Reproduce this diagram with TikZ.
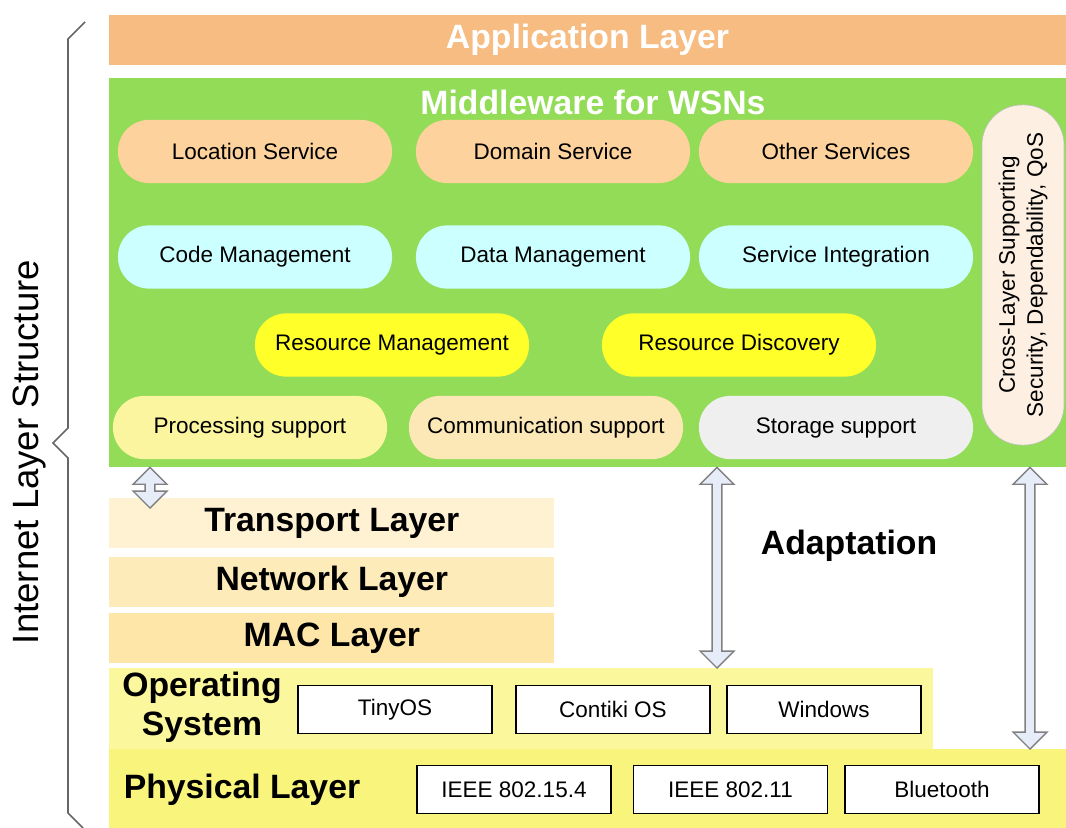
\documentclass[tikz,border=0pt]{standalone}
\usepackage{fontspec}
\setmainfont{Liberation Sans}
\usetikzlibrary{calc,positioning}
\definecolor{AppOrange}{HTML}{F6BC82}
\definecolor{MwGreen}{HTML}{93DC58}
\definecolor{SrvOrange}{HTML}{FDD29C}
\definecolor{MgmtCyan}{HTML}{CCFFFF}
\definecolor{ResYellow}{HTML}{FFFF2A}
\definecolor{ProcYellow}{HTML}{FAF59E}
\definecolor{CommBeige}{HTML}{FCE8B6}
\definecolor{StoreGray}{HTML}{EFEFEF}
\definecolor{CrossLinen}{HTML}{FDF0E3}
\definecolor{TransLight}{HTML}{FFF2D3}
\definecolor{NetLight}{HTML}{FEEBBA}
\definecolor{MacLight}{HTML}{FDE6A8}
\definecolor{OSYellow}{HTML}{FBF79D}
\definecolor{PhyYellow}{HTML}{F8F47C}
\definecolor{ArrFill}{HTML}{E6ECF8}
\tikzset{
  band/.style={inner sep=0pt, minimum width=23.925cm, font=\fontsize{24}{28}\selectfont\bfseries},
  pill/.style={rounded corners=0.78cm, minimum width=6.85cm, minimum height=1.58cm, inner sep=0pt, font=\fontsize{16}{19}\selectfont},
  stack/.style={inner sep=0pt, minimum width=11.125cm, minimum height=1.25cm, font=\fontsize{24}{28}\selectfont\bfseries},
  sysbox/.style={draw=black, line width=0.9pt, fill=white, minimum width=4.85cm, minimum height=1.2cm, inner sep=0pt, font=\fontsize{16}{19}\selectfont},
  bigtext/.style={font=\fontsize{24}{28}\selectfont\bfseries, align=center},
  fatarr/.style={draw=black!50, line width=1pt, fill=ArrFill},
  brace/.style={draw=black!60, line width=1.2pt}
}
\newcommand\fatarrow[3]{%
  \draw[fatarr] let \p1=(#2), \p2=(#3), \p3=(#1,0) in
    (\x3,\y1) -- (\x3+12pt,\y1-12pt) -- (\x3+3.5pt,\y1-12pt) -- (\x3+3.5pt,\y2+12pt)
    -- (\x3+12pt,\y2+12pt) -- (\x3,\y2) -- (\x3-12pt,\y2+12pt) -- (\x3-3.5pt,\y2+12pt)
    -- (\x3-3.5pt,\y1-12pt) -- (\x3-12pt,\y1-12pt) -- cycle;}

\begin{document}
\begin{tikzpicture}[x=0.025cm, y=-0.025cm]
\useasboundingbox (0,0) rectangle (1066,828);
\node[band, fill=AppOrange, text=white, minimum height=1.25cm] (app) at (587.5,40) {Application Layer};
\node[band, fill=MwGreen, minimum height=9.725cm] (mw) at (587.5,272.5) {};
\node[bigtext, text=white] (mwt) at (593,102) {Middleware for WSNs};
\node[pill, fill=SrvOrange] (loc) at (255,151.5) {Location Service};
\node[pill, fill=SrvOrange] (dom) at (553,151.5) {Domain Service};
\node[pill, fill=SrvOrange] (oth) at (836,151.5) {Other Services};
\node[pill, fill=MgmtCyan] (code) at (255,257) {Code Management};
\node[pill, fill=MgmtCyan] (data) at (553,257) {Data Management};
\node[pill, fill=MgmtCyan] (integ) at (836,257) {Service Integration};
\node[pill, fill=ResYellow] (rman) at (392,345) {Resource Management};
\node[pill, fill=ResYellow] (rdis) at (739,345) {Resource Discovery};
\node[pill, fill=ProcYellow] (proc) at (250,427.5) {Processing support};
\node[pill, fill=CommBeige] (comm) at (546,427.5) {Communication support};
\node[pill, fill=StoreGray] (stor) at (836,427.5) {Storage support};
\node[pill, fill=CrossLinen, draw=black!25, rotate=90, minimum width=8.5cm, minimum height=2.05cm, rounded corners=1cm, align=center, font=\fontsize{16}{20}\selectfont] (cross) at (1023,275) {Cross-Layer Supporting\\Security, Dependability, QoS};
\node[stack, fill=TransLight, anchor=north west] (tl) at (109,498) {Transport Layer};
\node[stack, fill=NetLight, below=0.2cm of tl] (nl) {Network Layer};
\node[stack, fill=MacLight, below=0.15cm of nl] (ml) {MAC Layer};
\node[band, fill=OSYellow, minimum width=20.575cm, minimum height=2.025cm, anchor=north west] (os) at (109,668) {};
\node[band, fill=PhyYellow, minimum height=1.975cm, anchor=north west] (phy) at (109,749) {};
\node[bigtext] (oslab) at (202,707) {Operating\\System};
\node[bigtext] (phylab) at (242,790) {Physical Layer};
\node[sysbox] (tiny) at (395,709.5) {TinyOS};
\node[sysbox] (conti) at (613,709.5) {Contiki OS};
\node[sysbox] (win) at (824,709.5) {Windows};
\node[sysbox] (ieeea) at (514,789.5) {IEEE 802.15.4};
\node[sysbox] (ieeeb) at (730.5,789.5) {IEEE 802.11};
\node[sysbox] (bt) at (942,789.5) {Bluetooth};
\node[bigtext] (adapt) at (849,546) {Adaptation};
\fatarrow{150}{mw.south}{$(tl.north)+(0,10)$}
\fatarrow{717}{mw.south}{os.north}
\fatarrow{1030}{mw.south}{phy.north}
\draw[brace] (85,22) -- (68,39) -- (68,428) -- (53,443) -- (68,458) -- (68,813) -- (83,828);
\node[rotate=90, font=\fontsize{26}{30}\selectfont] (ils) at (30,452) {Internet Layer Structure};
\end{tikzpicture}
\end{document}
